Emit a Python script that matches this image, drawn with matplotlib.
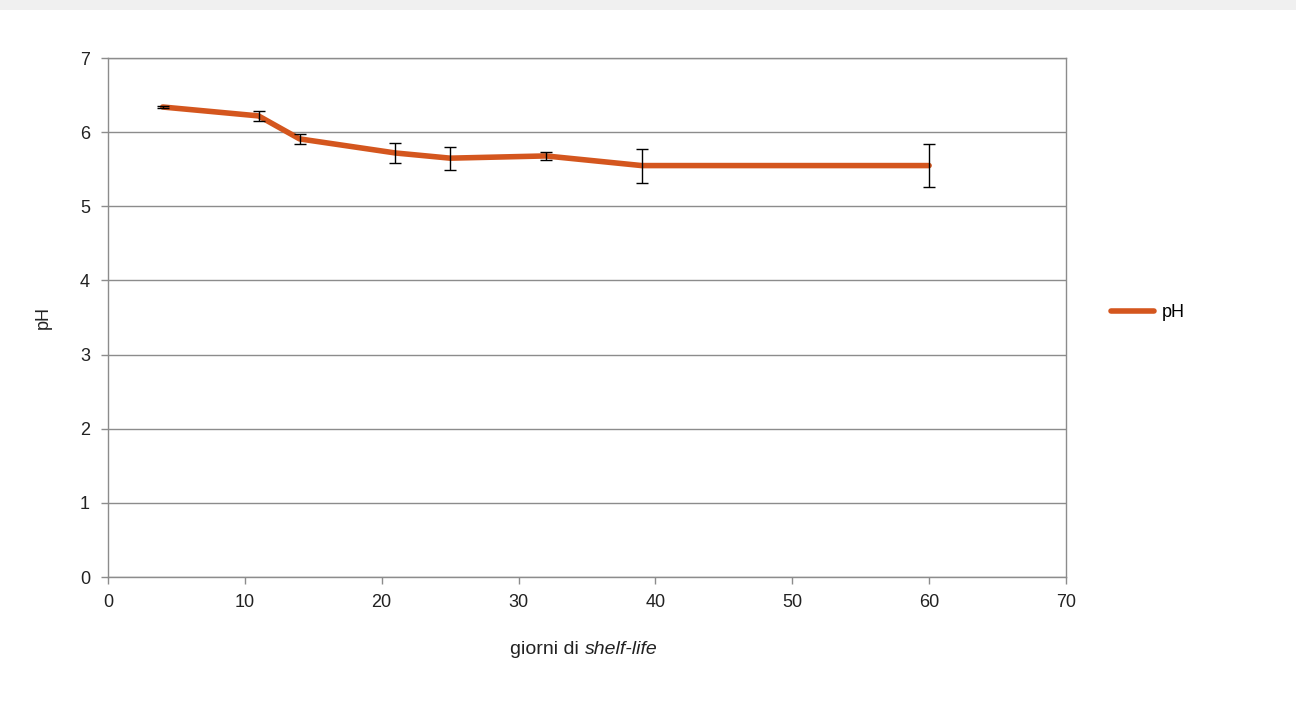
import matplotlib.pyplot as plt
from matplotlib.patches import Rectangle

# shelf-life days and pH readings
giorni = [4, 11, 14, 21, 25, 32, 39, 60]
ph = [6.34, 6.22, 5.91, 5.72, 5.65, 5.68, 5.55, 5.55]
ph_err = [0.02, 0.07, 0.07, 0.13, 0.155, 0.05, 0.23, 0.29]

plt.rcParams['font.family'] = ['Liberation Sans', 'DejaVu Sans']

fig = plt.figure(figsize=(12.96, 7.26), dpi=100)
fig.patch.set_facecolor('white')
# faint screenshot frame along top edge
fig.patches.append(Rectangle((0, 0.986), 1, 0.014, transform=fig.transFigure,
                             facecolor='#f0f0f0', edgecolor='none', zorder=0))

ax = fig.add_axes([0.0833, 0.2052, 0.7392, 0.7148])

ax.errorbar(giorni, ph, yerr=ph_err, fmt='none', ecolor='black',
            elinewidth=1.0, capsize=4, capthick=1.0, zorder=3)
ax.plot(giorni, ph, color='#d4561e', lw=4.0, solid_capstyle='round',
        label='pH', zorder=2)

ax.set_xlim(0, 70)
ax.set_ylim(0, 7)
ax.set_xticks(range(0, 71, 10))
ax.set_yticks(range(0, 8))
ax.yaxis.grid(True, color='#8c8c8c', lw=1.0)
ax.set_axisbelow(True)
for s in ax.spines.values():
    s.set_color('#8c8c8c')
    s.set_linewidth(1.0)
ax.tick_params(colors='#8c8c8c', labelcolor='#222222', labelsize=13,
               length=5, width=1.0, direction='out')
ax.tick_params(axis='y', pad=8)
ax.tick_params(axis='x', pad=7)

ax.set_ylabel('pH', fontsize=13, color='#222222', labelpad=20)
fig.text(0.451, 0.105, 'giorni di ', fontsize=14, color='#222222',
         ha='right', va='center')
fig.text(0.451, 0.105, 'shelf-life', fontsize=14, color='#222222',
         style='italic', ha='left', va='center')

leg = ax.legend(loc='center left', bbox_to_anchor=(1.03, 0.51), frameon=False,
                fontsize=13, handlelength=2.4, handletextpad=0.4)

fig.savefig('out.png', dpi=100)
